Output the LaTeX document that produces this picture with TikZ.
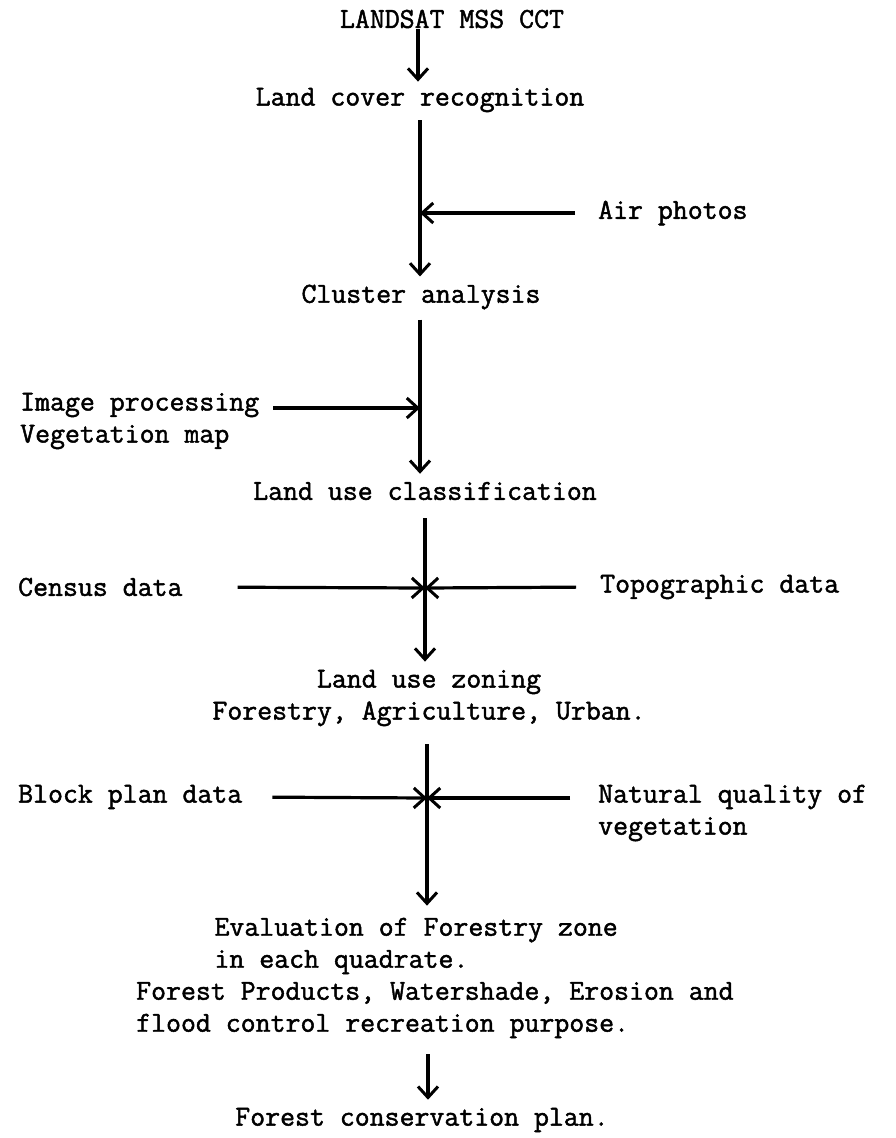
\documentclass[tikz,border=0pt]{standalone}
\usepackage{fontspec}
\newfontfamily\tw{Latin Modern Mono}[FakeBold=1.6]
\usetikzlibrary{arrows.meta}
\begin{document}
\begin{tikzpicture}[x=1pt,y=-1pt,
  txt/.style={font=\tw\fontsize{29}{32}\selectfont, inner sep=0pt},
  arr/.style={line width=3.2pt, -{Straight Barb[length=11pt,width=20pt,line width=3pt]}}]
\useasboundingbox (0,0) rectangle (896,1138);
% junctions
\coordinate (j1) at (420,213);
\coordinate (j2) at (420,408);
\coordinate (j3) at (425,588);
\coordinate (j4) at (427,798);
\coordinate (j5) at (428,1080);
% nodes
\node[txt] (n1) at (452,19) {LANDSAT MSS CCT};
\node[txt] (n2) at (420,100) {Land cover recognition};
\node[txt, anchor=west] (air) at (598,213) {Air photos};
\node[txt] (n3) at (421,297) {Cluster analysis};
\node[txt, anchor=west, align=left] (img) at (20,421) {Image processing\\Vegetation map};
\node[txt] (n4) at (425,491) {Land use classification};
\node[txt, anchor=west] (census) at (18,587) {Census data};
\node[txt, anchor=west] (topo) at (600,587) {Topographic data};
\node[txt, align=center] (n5) at (429,698) {Land use zoning\\Forestry, Agriculture, Urban.};
\node[txt, anchor=west] (block) at (18,797) {Block plan data};
\node[txt, anchor=west, align=left] (nat) at (598,813) {Natural quality of\\vegetation};
\node[txt, anchor=west, align=left] (n6) at (136,978) {\hspace*{2.7em}Evaluation of Forestry zone\\\hspace*{2.7em}in each quadrate.\\Forest Products, Watershade, Erosion and\\flood control recreation purpose.};
\node[txt] (n7) at (422,1120) {Forest conservation plan.};
% connectors
\draw[arr, shorten <=1pt, shorten >=6pt] (n1.south -| 418,0) -- (n2.north -| 418,0);
\draw[arr, shorten <=8pt, shorten >=8pt] (n2.south -| j1) -- (n3.north -| j1);
\draw[arr, shorten <=23pt] (air.west) -- (j1);
\draw[arr, shorten <=10pt, shorten >=8pt] (n3.south -| j2) -- (n4.north -| j2);
\draw[arr, shorten <=14pt] (img.east |- j2) -- (j2);
\draw[arr, shorten <=18pt, shorten >=8pt] (n4.south -| j3) -- (n5.north -| j3);
\draw[arr, shorten <=55pt] (census.east) -- (j3);
\draw[arr, shorten <=24pt] (topo.west) -- (j3);
\draw[arr, shorten <=30pt] (block.east) -- (j4);
\draw[arr, shorten <=28pt] (nat.west |- j4) -- (j4);
\draw[arr, shorten <=18pt, shorten >=12pt] (n5.south -| j4) -- (n6.north -| j4);
\draw[arr, shorten <=16pt, shorten >=8pt] (n6.south -| j5) -- (n7.north -| j5);
\end{tikzpicture}
\end{document}
